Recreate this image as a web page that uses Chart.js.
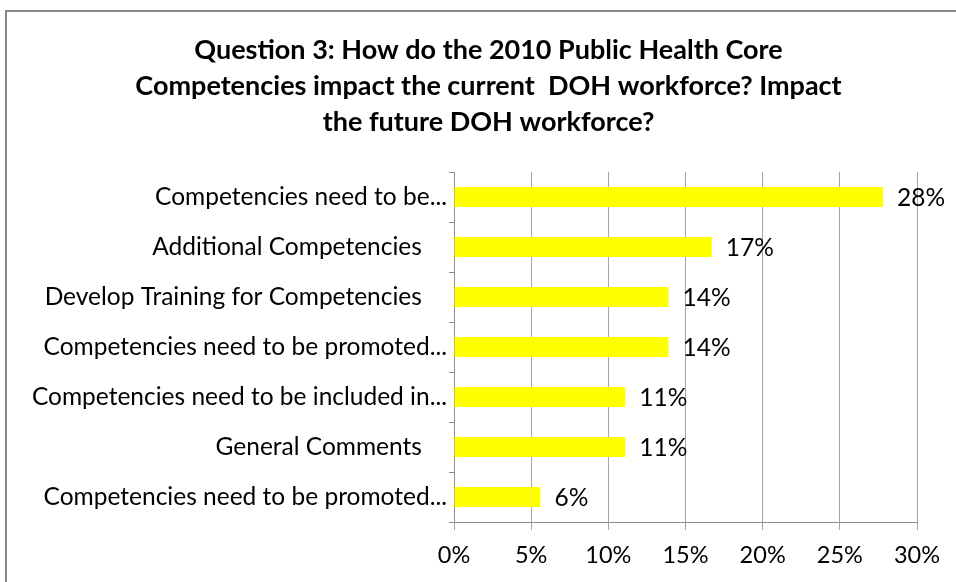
<!DOCTYPE html>
<html>
<head>
<meta charset="utf-8">
<script src="https://cdn.jsdelivr.net/npm/chart.js@4/dist/chart.umd.min.js"></script>
<style>
  html, body { margin: 0; padding: 0; background: #ffffff; }
  #wrap { width: 956px; height: 582px; overflow: hidden; }
</style>
</head>
<body>
<div id="wrap"><canvas id="chart" width="956" height="582"></canvas></div>
<script>
// Survey responses, share of comments per theme (%)
const titleLines = [
  'Question 3: How do the 2010 Public Health Core',
  'Competencies impact the current  DOH workforce? Impact',
  'the future DOH workforce?'
];
// Full category names keep a trailing gap; the truncated ones end in an ellipsis
const categories = [
  'Competencies need to be...',
  'Additional Competencies    ',
  'Develop Training for Competencies    ',
  'Competencies need to be promoted...',
  'Competencies need to be included in...',
  'General Comments    ',
  'Competencies need to be promoted...'
];
const shares = [27.8, 16.7, 13.9, 13.9, 11.1, 11.1, 5.6];
const axisMax = 30;
const axisStep = 5;

const FONT = 'Lato, "Open Sans", sans-serif';
const GRID = '#a6a6a6';
const AXIS = '#8c8c8c';
// The frame runs past the right edge, so the title sits right of the canvas centre
const TITLE_SHIFT = 26;

// Frame around the whole chart
const framePlugin = {
  id: 'frame',
  beforeDraw(chart) {
    const ctx = chart.ctx;
    ctx.save();
    ctx.strokeStyle = '#878787';
    ctx.lineWidth = 2;
    ctx.strokeRect(6, 11, chart.width + 20, chart.height + 20);
    ctx.restore();
  }
};

// Centre the title on the frame rather than on the canvas
const titleShift = {
  id: 'titleShift',
  afterLayout(chart) {
    const t = chart.titleBlock;
    if (t) { t.left += TITLE_SHIFT; t.right += TITLE_SHIFT; }
  }
};

// Percentage printed just past the end of each bar
const valueLabels = {
  id: 'valueLabels',
  afterDatasetsDraw(chart) {
    const ctx = chart.ctx;
    const meta = chart.getDatasetMeta(0);
    const data = chart.data.datasets[0].data;
    ctx.save();
    ctx.font = '24.5px ' + FONT;
    ctx.fillStyle = '#000000';
    ctx.textAlign = 'left';
    ctx.textBaseline = 'middle';
    meta.data.forEach((bar, i) => {
      ctx.fillText(Math.round(data[i]) + '%', bar.x + 14, bar.y + 1);
    });
    ctx.restore();
  }
};

new Chart(document.getElementById('chart'), {
  type: 'bar',
  data: {
    labels: categories,
    datasets: [{
      data: shares,
      backgroundColor: '#ffff00',
      borderWidth: 0,
      barPercentage: 0.4,
      categoryPercentage: 1.0
    }]
  },
  options: {
    indexAxis: 'y',
    responsive: false,
    animation: false,
    devicePixelRatio: 1,
    layout: { padding: { left: 8, right: 39, top: 0, bottom: 0 } },
    plugins: {
      legend: { display: false },
      tooltip: { enabled: false },
      title: {
        display: true,
        text: titleLines,
        color: '#000000',
        font: { family: FONT, size: 27, weight: 'bold', lineHeight: '36px' },
        padding: { top: 32, bottom: 32 }
      }
    },
    scales: {
      x: {
        min: 0,
        max: axisMax,
        ticks: {
          stepSize: axisStep,
          color: '#000000',
          padding: 11,
          font: { family: FONT, size: 23.5 },
          callback: v => v + '%'
        },
        grid: { color: GRID, lineWidth: 1, tickLength: 8, drawOnChartArea: true },
        border: { color: AXIS, width: 1 },
        afterFit(scale) { scale.height = 60; }
      },
      y: {
        ticks: {
          color: '#000000',
          padding: 2,
          font: { family: FONT, size: 24.5 }
        },
        grid: { offset: true, drawOnChartArea: false, color: AXIS, tickLength: 5 },
        border: { color: AXIS, width: 1 },
        afterFit(scale) { scale.width = 446; }
      }
    }
  },
  plugins: [framePlugin, titleShift, valueLabels]
});
</script>
</body>
</html>
